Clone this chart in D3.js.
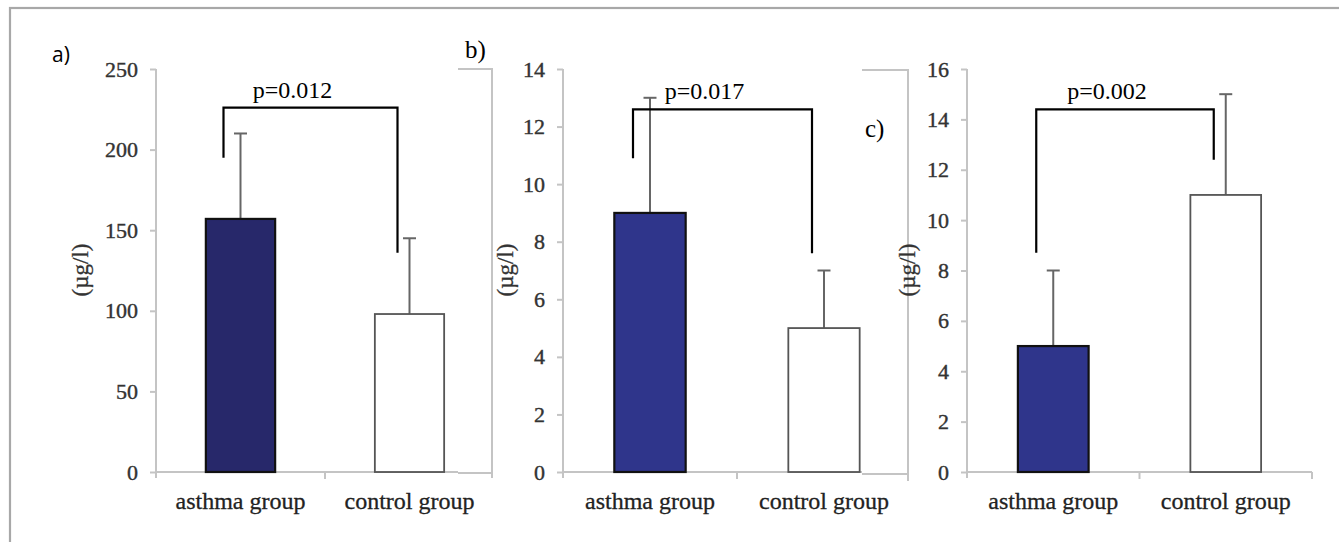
<!DOCTYPE html>
<html>
<head>
<meta charset="utf-8">
<title>asthma vs control</title>
<style>
	body { margin: 0; background: #fff; }
	.serif { font-family: 'Liberation Serif', 'DejaVu Serif', 'Times New Roman', serif; }
	.sans { font-family: 'Open Sans', 'Noto Sans', sans-serif; }
</style>
</head>
<body>
<div class="chart"></div>
<script src="https://cdn.jsdelivr.net/npm/d3@7"></script>
<script>
	// data
	const categories = ["asthma group", "control group"];
	const panelNames = ["a)", "b)", "c)"];
	const pLabels = ["p=0.012", "p=0.017", "p=0.002"];
	const yMax = [250, 14, 16];
	const yTicks = [
		[0, 50, 100, 150, 200, 250],
		[0, 2, 4, 6, 8, 10, 12, 14],
		[0, 2, 4, 6, 8, 10, 12, 14, 16]
	];
	const meanA = [157, 98];
	const upperA = [210, 145];
	const meanB = [9, 5];
	const upperB = [13, 7];
	const meanC = [5, 11];
	const upperC = [8, 15];
	// bracket: [left foot, top, right foot] in data units
	const brackets = [[195, 226, 136], [10.9, 12.6, 7.6], [8.7, 14.4, 12.4]];

	const means = [meanA, meanB, meanC];
	const uppers = [upperA, upperB, upperC];

	// layout
	const W = 1339, H = 542;
	const plotTop = 69, plotBottom = 472;
	const panels = [
		{ left: 156, right: 494, visRight: 458, fill: "#27286a", labelX: 80, nameX: 52, nameY: 62, sans: true },
		{ left: 563, right: 911, visRight: 862, fill: "#2f358b", labelX: 505, nameX: 465, nameY: 58, sans: false },
		{ left: 967, right: 1312, visRight: 1312, fill: "#2f358b", labelX: 907, nameX: 865, nameY: 137, sans: false }
	];
	const stubs = [
		{ x0: 458, x1: 492, y0: 69, y1: 473, yEnd: 478 },
		{ x0: 862, x1: 908, y0: 70, y1: 474, yEnd: 481 }
	];
	const axisGray = "#c4c4c4";

	const svg = d3.select(".chart").append("svg")
		.attr("width", W)
		.attr("height", H);

	// outer frame (cut at right / bottom)
	svg.append("rect")
		.attr("x", 10).attr("y", 8)
		.attr("width", W + 20).attr("height", H + 20)
		.attr("fill", "none")
		.attr("stroke", "#a8a8a8")
		.attr("stroke-width", 2.2);

	// leftover frame corners of the stacked panel images
	stubs.forEach(s => {
		svg.append("path")
			.attr("d", d3.line()([[s.x0, s.y0], [s.x1, s.y0], [s.x1, s.yEnd]]))
			.attr("fill", "none").attr("stroke", axisGray).attr("stroke-width", 2);
		svg.append("line")
			.attr("x1", s.x0).attr("x2", s.x1)
			.attr("y1", s.y1).attr("y2", s.y1)
			.attr("stroke", axisGray).attr("stroke-width", 2);
	});

	panels.forEach((p, i) => {
		let g = svg.append("g").attr("class", "panel-" + i);

		let x = d3.scaleBand()
			.domain(categories)
			.range([p.left, p.right])
			.paddingInner(0.59)
			.paddingOuter(0.295);
		let y = d3.scaleLinear()
			.domain([0, yMax[i]])
			.range([plotBottom, plotTop]);

		// y axis
		let axisY = d3.axisLeft(y)
			.tickValues(yTicks[i])
			.tickSize(6)
			.tickSizeOuter(0)
			.tickPadding(12);
		let ay = g.append("g")
			.attr("transform", "translate(" + p.left + ",0)")
			.call(axisY);
		ay.attr("font-family", null);
		ay.select(".domain").remove();
		ay.append("line")
			.attr("y1", plotTop).attr("y2", plotBottom + 6)
			.attr("stroke", axisGray).attr("stroke-width", 2);
		ay.selectAll(".tick line").attr("stroke", axisGray).attr("stroke-width", 2);
		ay.selectAll(".tick text")
			.attr("class", "serif")
			.attr("fill", "#333")
			.attr("font-size", 22)
			.attr("stroke", "#333").attr("stroke-width", 0.4);

		// x axis: line + separator ticks at band edges
		g.append("line")
			.attr("x1", x.range()[0]).attr("x2", p.visRight)
			.attr("y1", plotBottom).attr("y2", plotBottom)
			.attr("stroke", axisGray).attr("stroke-width", 2);
		let edges = [x.range()[0] + x.step(), x.range()[1]].filter(e => e <= p.visRight);
		g.selectAll(".sep").data(edges).enter().append("line")
			.attr("x1", d => d).attr("x2", d => d)
			.attr("y1", plotBottom).attr("y2", plotBottom + 7)
			.attr("stroke", axisGray).attr("stroke-width", 2);
		g.selectAll(".cat").data(categories).enter().append("text")
			.attr("class", "serif")
			.attr("x", d => x(d) + x.bandwidth() / 2)
			.attr("y", 509)
			.attr("text-anchor", "middle")
			.attr("font-size", 24)
			.attr("fill", "#222")
			.attr("stroke", "#222").attr("stroke-width", 0.3)
			.text(d => d);

		// y label
		g.append("text")
			.attr("class", "serif")
			.attr("transform", "translate(" + p.labelX + ",270) rotate(-90)")
			.attr("dy", "0.33em")
			.attr("text-anchor", "middle")
			.attr("font-size", 23)
			.attr("fill", "#333")
			.attr("stroke", "#333").attr("stroke-width", 0.3)
			.text("(\u00b5g/l)");

		// error bars
		let cap = 6.5;
		let err = g.append("g").attr("class", "errors");
		categories.forEach((c, j) => {
			let cx = x(c) + x.bandwidth() / 2;
			err.append("line")
				.attr("x1", cx).attr("x2", cx)
				.attr("y1", y(means[i][j])).attr("y2", y(uppers[i][j]))
				.attr("stroke", "#666").attr("stroke-width", 2);
			err.append("line")
				.attr("x1", cx - cap).attr("x2", cx + cap)
				.attr("y1", y(uppers[i][j])).attr("y2", y(uppers[i][j]))
				.attr("stroke", "#666").attr("stroke-width", 2);
		});

		// bars
		g.selectAll(".bar").data(categories).enter().append("rect")
			.attr("x", d => x(d))
			.attr("y", (d, j) => y(means[i][j]))
			.attr("width", x.bandwidth())
			.attr("height", (d, j) => plotBottom - y(means[i][j]))
			.attr("fill", (d, j) => j === 0 ? p.fill : "#fff")
			.attr("stroke", (d, j) => j === 0 ? "#111" : "#555")
			.attr("stroke-width", (d, j) => j === 0 ? 2.2 : 1.8);

		// significance bracket
		let bl = x(categories[0]) + x.bandwidth() / 2 - 17;
		let br = x(categories[1]) + x.bandwidth() / 2 - 12;
		let b = brackets[i];
		g.append("path")
			.attr("d", d3.line()([[bl, y(b[0])], [bl, y(b[1])], [br, y(b[1])], [br, y(b[2])]]))
			.attr("fill", "none")
			.attr("stroke", "#000")
			.attr("stroke-width", 2.2);
		g.append("text")
			.attr("class", "serif")
			.attr("x", (bl + br) / 2 - 18)
			.attr("y", y(b[1]) - 10)
			.attr("text-anchor", "middle")
			.attr("font-size", 24)
			.attr("fill", "#000")
			.text(pLabels[i]);

		// panel name
		g.append("text")
			.attr("class", p.sans ? "sans" : "serif")
			.attr("x", p.nameX)
			.attr("y", p.nameY)
			.attr("font-size", p.sans ? 21 : 25)
			.attr("fill", "#000")
			.text(panelNames[i]);
	});
</script>
</body>
</html>
